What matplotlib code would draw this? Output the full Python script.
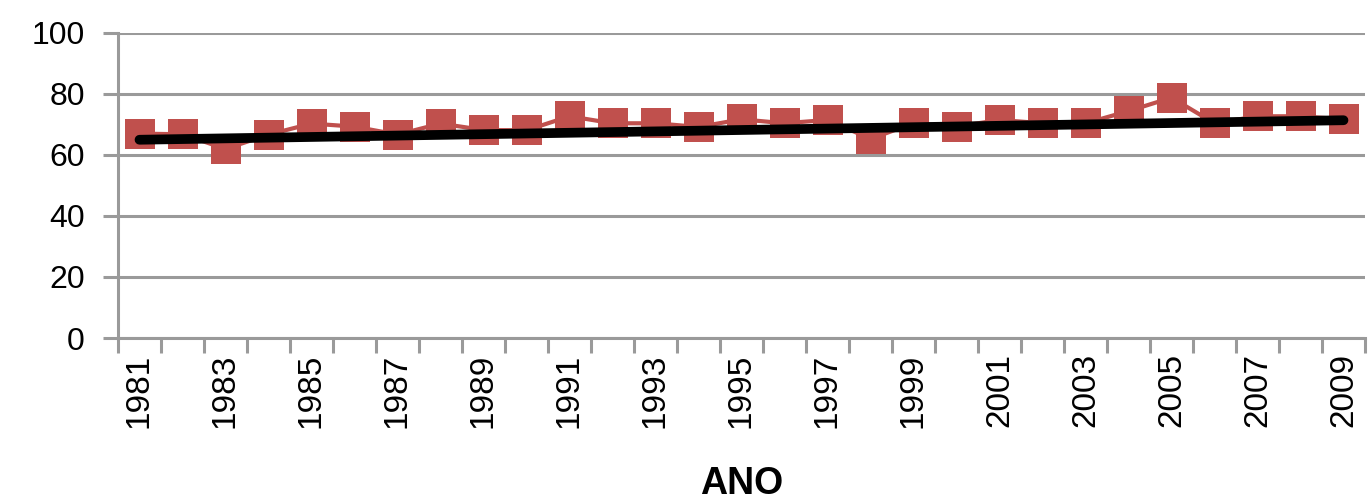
import numpy as np
import matplotlib
matplotlib.use("Agg")
import matplotlib.pyplot as plt
from matplotlib.ticker import FixedLocator

years = list(range(1981, 2010))
values = [67.0, 66.8, 62.0, 66.7, 70.3, 69.3, 66.7, 70.3, 68.2, 68.1,
          72.7, 70.4, 70.4, 69.2, 71.7, 70.4, 71.5, 65.3, 70.4, 69.3,
          71.5, 70.4, 70.4, 74.4, 78.8, 70.4, 72.7, 72.7, 71.7]
trend_years = [1981, 2009]
trend_values = [65.0, 71.4]
yticks = [0, 20, 40, 60, 80, 100]
xlabel = "ANO"

plt.rcParams['font.family'] = ['Liberation Sans', 'DejaVu Sans']

fig = plt.figure(figsize=(13.71, 5.01), dpi=100)
ax = fig.add_axes([118/1371, 1-338/501, (1365-118)/1371, (338-33)/501])

x = np.arange(len(years))
ax.plot(x, values, color='#C0504D', lw=3.0, marker='s', markersize=22,
        markeredgewidth=0, zorder=3)

tx = [years.index(y) for y in trend_years]
ax.plot(tx, trend_values, color='black', lw=7, solid_capstyle='round', zorder=4)

ax.set_xlim(-0.5, len(years) - 0.5)
ax.set_ylim(0, 100)
ax.set_yticks(yticks)
ax.set_yticklabels([str(v) for v in yticks], fontsize=23)
ax.yaxis.grid(True, color='#9a9a9a', lw=2.2)
ax.set_axisbelow(True)

ax.xaxis.set_major_locator(FixedLocator(x[::2]))
ax.set_xticklabels([str(y) for y in years[::2]], rotation=90, fontsize=24)
ax.xaxis.set_minor_locator(FixedLocator(np.arange(-0.5, len(years), 1.0)))
ax.tick_params(axis='x', which='major', length=0, pad=11)
ax.tick_params(axis='x', which='minor', length=11, width=2.2, color='#9a9a9a')
ax.tick_params(axis='y', length=11, width=2.2, color='#9a9a9a', pad=13)

for s in ['top', 'right']:
    ax.spines[s].set_visible(False)
for s in ['left', 'bottom']:
    ax.spines[s].set_color('#9a9a9a')
    ax.spines[s].set_linewidth(2.2)

fig.text((118+1365)/2/1371, 1-494/501, xlabel, ha='center', va='baseline',
         fontsize=27, fontweight='bold')

fig.savefig('out.png', dpi=100)
